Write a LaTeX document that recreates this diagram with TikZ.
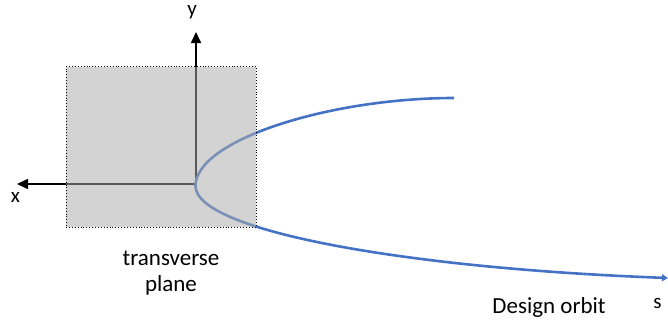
\documentclass[tikz,border=0pt]{standalone}
\usepackage{fontspec}
\setmainfont{Carlito}
\usepackage{xcolor}
\usetikzlibrary{arrows.meta, positioning}
\definecolor{orbitblue}{HTML}{4472C4}

\begin{document}
\begin{tikzpicture}[
  x=1pt, y=-1pt,
  axis/.style={-{Triangle[length=11pt, width=10pt]}, line width=1.6pt, black},
  orbit/.style={-{Triangle[length=6pt, width=7pt]}, line width=2.6pt, orbitblue},
  plane/.style={rectangle, draw=black, dotted, line width=0.9pt, fill=black!33,
                fill opacity=0.53, draw opacity=1, inner sep=0pt,
                minimum width=190pt, minimum height=160.5pt},
  biglbl/.style={inner sep=0pt, font=\fontsize{23}{26}\selectfont},
  axlbl/.style={inner sep=0pt, font=\fontsize{21}{24}\selectfont}
]
\useasboundingbox (0,0) rectangle (668,324);

\coordinate (origin) at (196,184);
\coordinate (xtip)   at (17,184);
\coordinate (ytip)   at (196,32);
\coordinate (vertex) at (195.5,186);
\coordinate (otop)   at (454,98);
\coordinate (oend)   at (668,278);

% axes
\draw[axis] (origin) -- (xtip);
\draw[axis] (origin) -- (ytip);

% design orbit
\draw[orbit] (otop) .. controls (330,98) and (195.5,140) .. (vertex)
             .. controls (195.5,230) and (400,268) .. (oend);

% transverse plane on top
\node[plane] (tplane) at (161,147) {};

\node[axlbl] (xlbl) at (15.5,197) {x};
\node[axlbl, anchor=base] (ylbl) at (192,15) {y};
\node[axlbl, anchor=base] (slbl) at (657.5,308) {s};
\node[biglbl, align=center] (planelbl) at (171,273) {transverse\\plane};
\node[biglbl, anchor=base] (orbitlbl) at (549,313) {Design orbit};
\end{tikzpicture}
\end{document}
